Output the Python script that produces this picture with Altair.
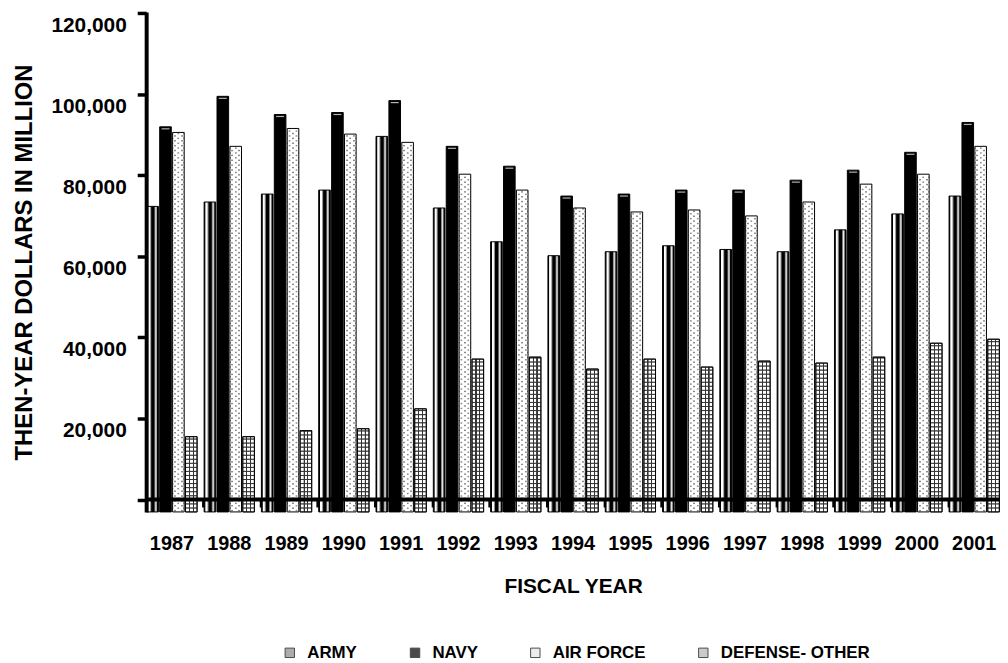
import altair as alt
import pandas as pd

years = [str(y) for y in range(1987, 2002)]
series = ["ARMY", "NAVY", "AIR FORCE", "DEFENSE- OTHER"]
army = [75350, 76430, 78390, 79370, 92610, 74960, 66620, 63190, 64170, 65640, 64730, 64170, 69560, 73490, 77900]
navy = [94970, 102490, 98010, 98500, 101440, 90160, 85260, 77900, 78390, 79370, 79370, 81820, 84280, 88690, 96050]
air_force = [93590, 90160, 94570, 93180, 91140, 83290, 79370, 74960, 73980, 74470, 73000, 76430, 80840, 83290, 90160]
defense_other = [18560, 18560, 20030, 20520, 25430, 37690, 38180, 35240, 37690, 35730, 37200, 36710, 38180, 41610, 42590]
y_ticks = [0, 20000, 40000, 60000, 80000, 100000, 120000]
legend_colors = ["#8a8a8a", "#000000", "#e4e4e4", "#b4b4b4"]

FONT = "Liberation Sans"


def grad(stops):
    return {"gradient": "linear", "x1": 0, "y1": 0, "x2": 1, "y2": 0,
            "stops": [{"offset": o, "color": c} for o, c in stops]}


army_fill = grad([(0, "#000"), (0.08, "#000"), (0.14, "#fff"), (0.24, "#fff"), (0.34, "#888"),
                  (0.42, "#000"), (0.62, "#000"), (0.7, "#888"), (0.78, "#eee"), (0.86, "#888"),
                  (0.92, "#000"), (1, "#000")])
dot_a = grad([(0, "#fff"), (0.1, "#fff"), (0.14, "#8a8a8a"), (0.26, "#8a8a8a"), (0.3, "#fff"),
              (0.7, "#fff"), (0.74, "#8a8a8a"), (0.86, "#8a8a8a"), (0.9, "#fff"), (1, "#fff")])
dot_b = grad([(0, "#8a8a8a"), (0.05, "#8a8a8a"), (0.09, "#fff"), (0.4, "#fff"), (0.44, "#8a8a8a"),
              (0.56, "#8a8a8a"), (0.6, "#fff"), (0.91, "#fff"), (0.95, "#8a8a8a"), (1, "#8a8a8a")])
grid_fill = grad([(0, "#fff"), (0.29, "#fff"), (0.3, "#333"), (0.39, "#333"), (0.4, "#fff"),
                  (0.61, "#fff"), (0.62, "#333"), (0.71, "#333"), (0.72, "#fff"), (1, "#fff")])

rows = []
values_by_series = [army, navy, air_force, defense_other]
for i, yr in enumerate(years):
    for s, vals in zip(series, values_by_series):
        rows.append(dict(year=yr, series=s, kind="bar", lo=0, hi=vals[i], phase=0))
    v = defense_other[i]
    k = 0
    while k * 1000 < v:
        rows.append(dict(year=yr, series="DEFENSE- OTHER", kind="grid", lo=k * 1000,
                         hi=min((k + 1) * 1000, v), phase=0))
        k += 1
    v = air_force[i]
    k = 0
    while k * 600 + 550 < v:
        rows.append(dict(year=yr, series="AIR FORCE", kind="dot", lo=k * 600 + 150,
                         hi=k * 600 + 500, phase=k % 2))
        k += 1
df = pd.DataFrame(rows)

x_enc = alt.X(
    "year:N", sort=years, title="FISCAL YEAR",
    scale=alt.Scale(paddingInner=0.1, paddingOuter=0),
    axis=alt.Axis(labelAngle=0, offset=-13, domainWidth=4, domainColor="black",
                  tickSize=8, tickWidth=2.5, tickColor="black", bandPosition=0,
                  labelPadding=27, titlePadding=22, zindex=1,
                  labelFont=FONT, labelFontSize=20, labelFontWeight="bold", labelColor="black",
                  titleFont=FONT, titleFontSize=21, titleFontWeight="bold", titleColor="black"),
)
xo_enc = alt.XOffset("series:N", sort=series,
                     scale=alt.Scale(domain=series, paddingInner=0.1, paddingOuter=0.05))
y_enc = alt.Y(
    "hi:Q", title="THEN-YEAR DOLLARS IN MILLION",
    scale=alt.Scale(domain=[0, 123300], nice=False, zero=True),
    axis=alt.Axis(values=y_ticks, format=",d",
                  labelExpr="datum.value == 0 ? '' : datum.label",
                  tickOffset=-12.5, labelOffset=12.5, tickSize=9, tickWidth=3.5,
                  tickColor="black", domainWidth=4, domainColor="black", grid=False,
                  labelPadding=11, titlePadding=14, zindex=1,
                  labelFont=FONT, labelFontSize=21, labelFontWeight="bold", labelColor="black",
                  titleFont=FONT, titleFontSize=24, titleFontWeight="bold", titleColor="black"),
)
y2_enc = alt.Y2("lo:Q")

base = alt.Chart(df)


def layer(expr, mark):
    return mark.transform_filter(expr).encode(x=x_enc, xOffset=xo_enc, y=y_enc, y2=y2_enc)


army_l = layer("datum.kind == 'bar' && datum.series == 'ARMY'",
               base.mark_bar(fill=army_fill, stroke="black", strokeWidth=1))
navy_l = layer("datum.kind == 'bar' && datum.series == 'NAVY'",
               base.mark_bar(fill="black", stroke="black", strokeWidth=1))
navy_hi = base.mark_tick(color="white", thickness=1.2, size=8, yOffset=2).transform_filter(
    "datum.kind == 'bar' && datum.series == 'NAVY'").encode(x=x_enc, xOffset=xo_enc, y=y_enc)
af_base = layer("datum.kind == 'bar' && datum.series == 'AIR FORCE'",
                base.mark_bar(fill="white", strokeWidth=0))
af_dot_a = layer("datum.kind == 'dot' && datum.phase == 0",
                 base.mark_bar(fill=dot_a, strokeWidth=0))
af_dot_b = layer("datum.kind == 'dot' && datum.phase == 1",
                 base.mark_bar(fill=dot_b, strokeWidth=0))
af_out = layer("datum.kind == 'bar' && datum.series == 'AIR FORCE'",
               base.mark_bar(fill="white", fillOpacity=0, stroke="black", strokeWidth=1))
do_grid = layer("datum.kind == 'grid'",
                base.mark_bar(fill=grid_fill, stroke="#333", strokeWidth=1))
do_out = layer("datum.kind == 'bar' && datum.series == 'DEFENSE- OTHER'",
               base.mark_bar(fill="white", fillOpacity=0, stroke="black", strokeWidth=1))

legend_l = base.mark_square(filled=True).transform_filter("false").encode(
    x=x_enc, xOffset=xo_enc, y=y_enc,
    color=alt.Color("series:N", sort=series,
                    scale=alt.Scale(domain=series, range=legend_colors),
                    legend=alt.Legend(title=None, orient="none", legendX=136, legendY=636,
                                      direction="horizontal", symbolType="square",
                                      symbolSize=90, symbolStrokeColor="black",
                                      symbolStrokeWidth=1, labelOffset=9, columnPadding=49,
                                      labelFont=FONT, labelFontSize=17, labelFontWeight="bold",
                                      labelColor="black")),
)

chart = alt.layer(
    army_l, navy_l, navy_hi, af_base, af_dot_a, af_dot_b, af_out, do_grid, do_out, legend_l
).properties(
    width=859, height=503,
    padding={"left": 5, "top": 1, "right": 0, "bottom": 0},
).configure_view(strokeWidth=0)

chart.save("out.html", embed_options={"renderer": "svg", "actions": False})
